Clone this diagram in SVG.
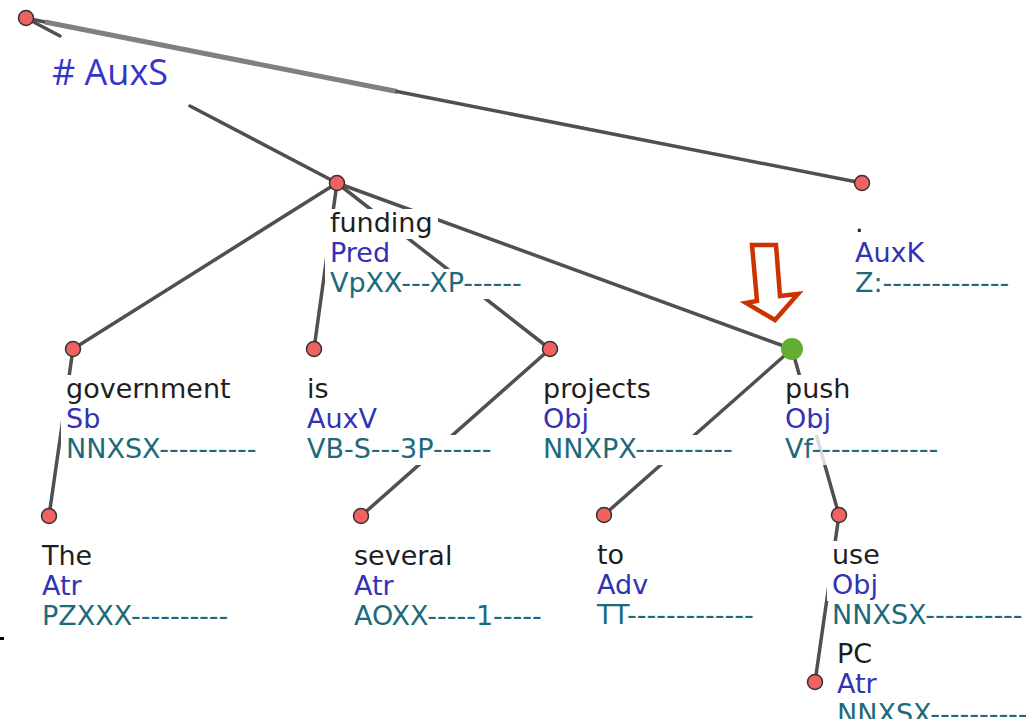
<svg xmlns="http://www.w3.org/2000/svg" width="1026" height="719" viewBox="0 0 1026 719">
<style>
.e{stroke:#505050;stroke-width:3.5;stroke-linecap:round;fill:none}
.n{fill:#f06262;stroke:#333;stroke-width:1.5}
.bg{fill:#fff}
text{font-family:"DejaVu Sans",Verdana,sans-serif;font-size:27px}
.w{fill:#1e1e1e}
.f{fill:#3232b4}
.t{fill:#1d6a7a}
</style>
<rect width="1026" height="719" fill="#fff"/>
<g id="edges">
<line class="e" x1="26" y1="18" x2="60" y2="36"/>
<line class="e" x1="190" y1="106" x2="337" y2="183"/>
<line class="e" x1="26" y1="18" x2="45" y2="22"/>
<line x1="45" y1="22" x2="397" y2="91.5" stroke="#808080" stroke-width="5"/>
<line class="e" x1="397" y1="91.5" x2="862" y2="183"/>
<line class="e" x1="337" y1="183" x2="73" y2="349"/>
<line class="e" x1="337" y1="183" x2="314" y2="349"/>
<line class="e" x1="337" y1="183" x2="550" y2="349"/>
<line class="e" x1="337" y1="183" x2="792" y2="349"/>
<line class="e" x1="73" y1="349" x2="49" y2="516"/>
<line class="e" x1="550" y1="349" x2="361" y2="516"/>
<line class="e" x1="792" y1="349" x2="604" y2="515"/>
<line class="e" x1="792" y1="349" x2="839" y2="515"/>
<line class="e" x1="839" y1="515" x2="815" y2="682"/>
</g>
<g id="n_root">
<circle class="n" cx="26" cy="18" r="7.5"/>
<text x="52" y="85" style="font-family:'Open Sans',sans-serif;font-size:36px" fill="#3535cc"># AuxS</text>
</g>
<g id="n_funding">
<rect class="bg" x="325" y="209" width="113" height="30"/><rect class="bg" x="325" y="239" width="71" height="30"/><rect class="bg" x="325" y="269" width="205" height="30"/>
<circle class="n" cx="337" cy="183" r="7.5"/>
<text class="w" x="330" y="232">funding</text><text class="f" x="330" y="262">Pred</text><text class="t" x="330" y="292">VpXX---XP------</text>
</g>
<g id="n_period">
<rect class="bg" x="850" y="209" width="19" height="30"/><rect class="bg" x="850" y="239" width="79" height="30"/><rect class="bg" x="850" y="269" width="164" height="30"/>
<circle class="n" cx="862" cy="183" r="7.5"/>
<text class="w" x="855" y="232">.</text><text class="f" x="855" y="262">AuxK</text><text class="t" x="855" y="292">Z:-------------</text>
</g>
<g id="n_government">
<rect class="bg" x="61" y="375" width="175" height="30"/><rect class="bg" x="61" y="405" width="44" height="30"/><rect class="bg" x="61" y="435" width="202" height="30"/>
<circle class="n" cx="73" cy="349" r="7.5"/>
<text class="w" x="66" y="398">government</text><text class="f" x="66" y="428">Sb</text><text class="t" x="66" y="458">NNXSX----------</text>
</g>
<g id="n_is">
<rect class="bg" x="302" y="375" width="32" height="30"/><rect class="bg" x="302" y="405" width="80" height="30"/><rect class="bg" x="302" y="435" width="195" height="30"/>
<circle class="n" cx="314" cy="349" r="7.5"/>
<text class="w" x="307" y="398">is</text><text class="f" x="307" y="428">AuxV</text><text class="t" x="307" y="458">VB-S---3P------</text>
</g>
<g id="n_projects">
<rect class="bg" x="538" y="375" width="118" height="30"/><rect class="bg" x="538" y="405" width="56" height="30"/><rect class="bg" x="538" y="435" width="201" height="30"/>
<circle class="n" cx="550" cy="349" r="7.5"/>
<text class="w" x="543" y="398">projects</text><text class="f" x="543" y="428">Obj</text><text class="t" x="543" y="458">NNXPX----------</text>
</g>
<g id="n_push">
<rect class="bg" x="780" y="375" width="75" height="30"/><rect class="bg" x="780" y="405" width="56" height="30"/><rect class="bg" x="780" y="435" width="165" height="30" opacity="0.8"/>
<circle cx="792" cy="349" r="11" fill="#63ad32"/>
<text class="w" x="785" y="398">push</text><text class="f" x="785" y="428">Obj</text><text class="t" x="785" y="458">Vf-------------</text>
</g>
<g id="n_the">
<rect class="bg" x="37" y="542" width="60" height="30"/><rect class="bg" x="37" y="572" width="50" height="30"/><rect class="bg" x="37" y="602" width="198" height="30"/>
<circle class="n" cx="49" cy="516" r="7.5"/>
<text class="w" x="42" y="565">The</text><text class="f" x="42" y="595">Atr</text><text class="t" x="42" y="625">PZXXX----------</text>
</g>
<g id="n_several">
<rect class="bg" x="349" y="542" width="108" height="30"/><rect class="bg" x="349" y="572" width="50" height="30"/><rect class="bg" x="349" y="602" width="201" height="30"/>
<circle class="n" cx="361" cy="516" r="7.5"/>
<text class="w" x="354" y="565">several</text><text class="f" x="354" y="595">Atr</text><text class="t" x="354" y="625">AOXX-----1-----</text>
</g>
<g id="n_to">
<rect class="bg" x="592" y="541" width="37" height="30"/><rect class="bg" x="592" y="571" width="62" height="30"/><rect class="bg" x="592" y="601" width="170" height="30"/>
<circle class="n" cx="604" cy="515" r="7.5"/>
<text class="w" x="597" y="564">to</text><text class="f" x="597" y="594">Adv</text><text class="t" x="597" y="624">TT-------------</text>
</g>
<g id="n_use">
<rect class="bg" x="827" y="541" width="58" height="30"/><rect class="bg" x="827" y="571" width="56" height="30"/><rect class="bg" x="829" y="601" width="200" height="30"/>
<circle class="n" cx="839" cy="515" r="7.5"/>
<text class="w" x="832" y="564">use</text><text class="f" x="832" y="594">Obj</text><text class="t" x="832" y="624">NNXSX----------</text>
</g>
<g id="n_pc">
<circle class="n" cx="815" cy="682" r="7.5"/>
<text class="w" x="837" y="663">PC</text><text class="f" x="837" y="693">Atr</text><text class="t" x="837" y="723">NNXSX----------</text>
</g>
<polygon id="arrow" points="752,245 776,245 780,296 798,294 775,320 746,303 757,301" fill="#fff" stroke="#cc3300" stroke-width="4.5" stroke-linejoin="miter"/>
<rect x="0" y="637" width="4" height="3" fill="#000"/>
</svg>
